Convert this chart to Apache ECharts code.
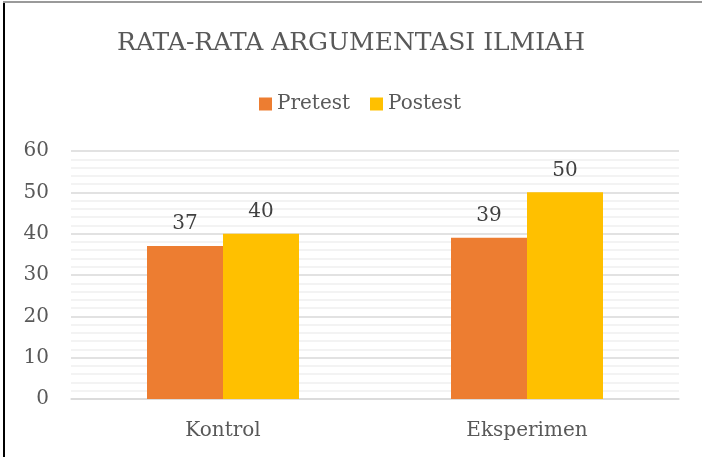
<!DOCTYPE html>
<html><head><meta charset="utf-8">
<script src="https://cdn.jsdelivr.net/npm/echarts@6/dist/echarts.min.js"></script>
<style>
html,body{margin:0;padding:0;background:#fff;}
#c{width:702px;height:457px;}
#bl{position:absolute;left:3px;top:3px;width:2px;height:454px;background:#000;}
#bt{position:absolute;left:3px;top:1px;width:699px;height:2px;background:#9a9a9a;}
</style></head>
<body>
<div id="c"></div><div id="bl"></div><div id="bt"></div>
<script>
const categories = ['Kontrol', 'Eksperimen'];
const pretest = [37, 39];
const postest = [40, 50];
const yTicks = [0, 10, 20, 30, 40, 50, 60];
const FONT = '"DejaVu Serif", serif';
const chart = echarts.init(document.getElementById('c'));
chart.setOption({
  animation: false,
  title: {
    text: 'RATA-RATA ARGUMENTASI ILMIAH',
    left: 'center', top: 26,
    textStyle: {fontFamily: FONT, fontSize: 25, fontWeight: 'normal', color: '#595959'}
  },
  legend: {
    top: 89, left: 254, itemWidth: 13, itemHeight: 13, itemGap: 20,
    icon: 'rect',
    textStyle: {fontFamily: FONT, fontSize: 20, color: '#595959'},
    data: ['Pretest', 'Postest']
  },
  grid: {left: 71, right: 23, top: 151, bottom: 58, containLabel: false},
  xAxis: {
    type: 'category', data: categories,
    axisLine: {lineStyle: {color: '#D9D9D9', width: 1.5}},
    axisTick: {show: false},
    axisLabel: {fontFamily: FONT, fontSize: 20, color: '#595959', margin: 22}
  },
  yAxis: {
    type: 'value', min: yTicks[0], max: yTicks[yTicks.length - 1], interval: 10,
    axisLine: {show: false}, axisTick: {show: false},
    axisLabel: {fontFamily: FONT, fontSize: 20, color: '#595959', margin: 22},
    splitLine: {lineStyle: {color: '#D9D9D9', width: 1.5}},
    minorTick: {show: false, splitNumber: 5},
    minorSplitLine: {show: true, lineStyle: {color: '#F0F0F0', width: 1.5}}
  },
  series: [
    {name: 'Pretest', type: 'bar', data: pretest, barGap: '0%', barCategoryGap: '50%',
     itemStyle: {color: '#ED7D31'},
     label: {show: true, position: 'top', distance: 12, fontFamily: FONT, fontSize: 20, color: '#404040'}},
    {name: 'Postest', type: 'bar', data: postest, barGap: '0%', barCategoryGap: '50%',
     itemStyle: {color: '#FFC000'},
     label: {show: true, position: 'top', distance: 12, fontFamily: FONT, fontSize: 20, color: '#404040'}}
  ]
});
</script>
</body></html>
